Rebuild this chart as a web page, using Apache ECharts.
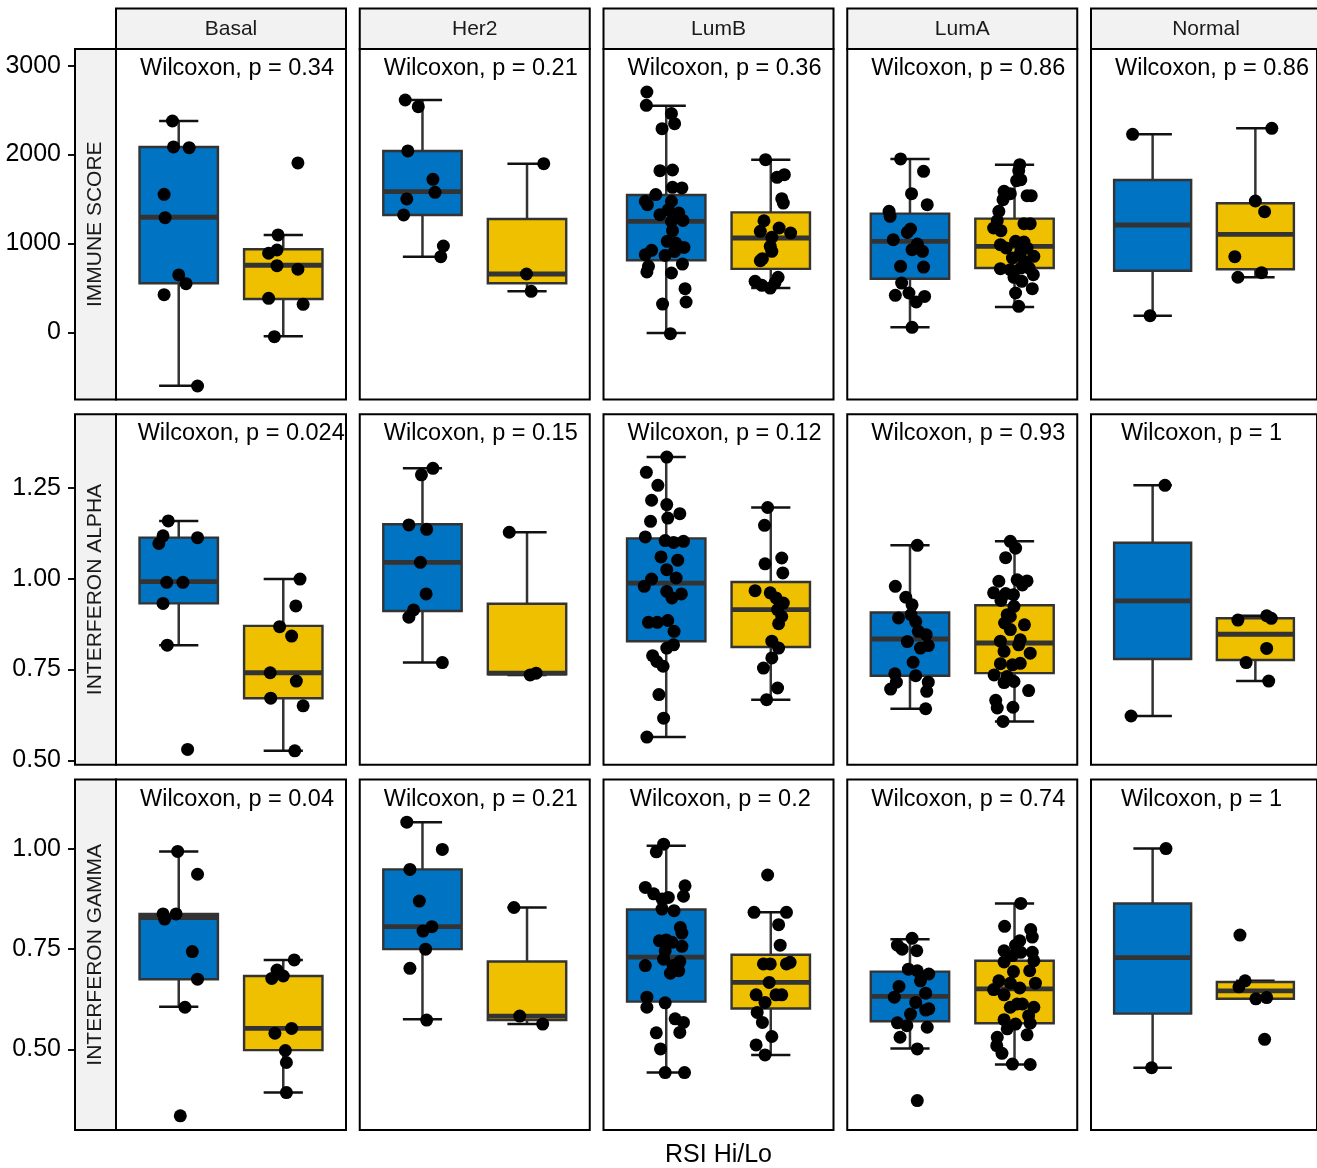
<!DOCTYPE html>
<html>
<head>
<meta charset="utf-8">
<script src="https://cdn.jsdelivr.net/npm/echarts@6/dist/echarts.min.js"></script>
<style>html,body{margin:0;padding:0;background:#fff}#chart{width:1317px;height:1168px}</style>
</head>
<body>
<div id="chart"></div>
<script>
// ---------------- DATA ----------------
const subtypes = ['Basal', 'Her2', 'LumB', 'LumA', 'Normal'];
const measures = ['IMMUNE SCORE', 'INTERFERON ALPHA', 'INTERFERON GAMMA'];
const groups = ['Hi', 'Lo'];
const xTitle = 'RSI Hi/Lo';

const immuneP = ['0.34', '0.21', '0.36', '0.86', '0.86'];
const alphaP = ['0.024', '0.15', '0.12', '0.93', '1'];
const gammaP = ['0.04', '0.21', '0.2', '0.74', '1'];

const immuneTicks = [0, 1000, 2000, 3000];
const alphaTicks = [0.5, 0.75, 1.0, 1.25];
const gammaTicks = [0.5, 0.75, 1.0];

const immuneRange = [-756, 3187];
const alphaRange = [0.4876, 1.4527];
const gammaRange = [0.2983, 1.1732];

// box stats per subtype: [lower whisker, q1, median, q3, upper whisker]
const immuneBoxHi = [[-600, 551, 1294, 2085, 2377], [851, 1320, 1582, 2040, 2613], [-8, 810, 1248, 1545, 2549], [56, 603, 1023, 1335, 1950], [187, 693, 1207, 1713, 2227]];
const immuneBoxLo = [[-45, 375, 754, 934, 1095], [461, 551, 656, 1275, 1897], [498, 713, 1061, 1349, 1942], [285, 723, 967, 1279, 1886], [619, 709, 1102, 1451, 2295]];
const alphaBoxHi = [[0.817, 0.932, 0.992, 1.113, 1.159], [0.769, 0.911, 1.045, 1.150, 1.304], [0.564, 0.828, 0.988, 1.111, 1.335], [0.642, 0.733, 0.834, 0.907, 1.092], [0.622, 0.779, 0.939, 1.099, 1.257]];
const alphaBoxLo = [[0.526, 0.671, 0.741, 0.870, 0.999], [0.735, 0.737, 0.740, 0.931, 1.128], [0.667, 0.812, 0.915, 0.991, 1.196], [0.607, 0.740, 0.823, 0.927, 1.103], [0.718, 0.776, 0.847, 0.891, 0.898]];
const gammaBoxHi = [[0.606, 0.675, 0.829, 0.838, 0.994], [0.575, 0.750, 0.806, 0.949, 1.067], [0.442, 0.619, 0.730, 0.849, 1.008], [0.502, 0.570, 0.632, 0.694, 0.775], [0.454, 0.589, 0.729, 0.864, 1.001]];
const gammaBoxLo = [[0.392, 0.498, 0.552, 0.683, 0.723], [0.563, 0.573, 0.583, 0.719, 0.854], [0.486, 0.602, 0.667, 0.736, 0.842], [0.462, 0.565, 0.651, 0.721, 0.864], [0.626, 0.626, 0.646, 0.668, 0.671]];

// points: [jitter offset, value]
const immuneBasalHi = [[-0.06,2377],[-0.05,2085],[0.10,2077],[-0.14,1552],[-0.13,1290],[0,645],[0.07,547],[-0.14,423],[0.18,-604]];
const immuneBasalLo = [[0.14,1905],[-0.05,1095],[-0.14,889],[-0.06,926],[-0.06,749],[0.14,709],[-0.14,382],[0.19,315],[-0.085,-49]];
const immuneHer2Hi = [[-0.165,2613],[-0.04,2538],[-0.14,2040],[0.10,1721],[0.12,1575],[-0.15,1500],[-0.18,1320],[0.20,971],[0.175,851]];
const immuneHer2Lo = [[0.16,1897],[-0.005,656],[0.04,461]];
const immuneLumBHi = [[-0.185,2703],[-0.19,2553],[0.05,2460],[0.08,2347],[-0.04,2291],[-0.06,1818],[0.06,1826],[0.06,1631],[0.15,1624],[-0.10,1549],[-0.20,1474],[-0.18,1436],[0.05,1474],[0.02,1380],[0.12,1342],[-0.06,1323],[0.16,1259],[0.05,1248],[0.06,1143],[0.01,1023],[0.09,1004],[0.17,955],[-0.14,922],[-0.20,873],[-0.01,865],[0.08,910],[0.155,768],[-0.17,742],[-0.185,679],[0.05,667],[0.18,491],[0.19,341],[-0.035,318],[0.04,-15]];
const immuneLumBLo = [[-0.05,1942],[0.06,1743],[0.13,1773],[0.105,1503],[0.12,1454],[-0.065,1255],[0.08,1173],[0.19,1117],[-0.10,1136],[0.01,1068],[-0.005,967],[0.01,911],[-0.08,828],[-0.10,806],[-0.15,573],[-0.085,528],[0.07,618],[-0.005,498],[0.04,555]];
const immuneLumAHi = [[-0.09,1950],[0.13,1811],[0.015,1560],[0.165,1436],[-0.20,1361],[-0.19,1305],[0.005,1162],[-0.025,1124],[-0.16,1042],[0.07,993],[0.02,930],[0.12,911],[-0.09,742],[0.13,734],[-0.08,554],[-0.14,416],[-0.01,442],[0.06,341],[0.14,404],[0.02,56]];
const immuneLumALo = [[0.05,1886],[0.04,1818],[0.06,1717],[0.02,1706],[-0.10,1586],[-0.04,1560],[0.12,1537],[0.16,1537],[-0.11,1492],[-0.15,1361],[-0.165,1256],[-0.20,1173],[-0.13,1143],[0.09,1222],[0.15,1222],[-0.135,986],[0.01,1023],[0.09,1016],[-0.08,948],[0.06,911],[0.185,855],[-0.02,836],[-0.135,716],[0.09,798],[0.14,723],[0.06,723],[-0.005,618],[0.18,648],[0.07,573],[0.17,491],[0.01,442],[0.04,292],[-0.04,704],[0.12,948]];
const immuneNormalHi = [[-0.195,2227],[-0.025,187]];
const immuneNormalLo = [[0.16,2295],[0,1477],[0.09,1357],[-0.20,851],[-0.17,619],[0.06,671]];

const alphaBasalHi = [[-0.10,1.159],[-0.15,1.118],[-0.19,1.097],[0.18,1.113],[-0.115,0.990],[0.04,0.990],[-0.15,0.932],[-0.11,0.817],[0.085,0.530]];
const alphaBasalLo = [[0.16,0.999],[0.12,0.925],[-0.035,0.868],[0.08,0.842],[-0.125,0.741],[0.125,0.718],[-0.12,0.671],[0.19,0.650],[0.11,0.526]];
const alphaHer2Hi = [[0.10,1.304],[-0.01,1.286],[-0.13,1.148],[0.04,1.136],[-0.02,1.045],[0.035,0.958],[-0.085,0.914],[-0.13,0.894],[0.19,0.769]];
const alphaHer2Lo = [[-0.17,1.128],[0.03,0.735],[0.087,0.740]];
const alphaLumBHi = [[0.005,1.335],[-0.19,1.293],[-0.08,1.257],[-0.14,1.216],[0.005,1.204],[0.13,1.179],[0.015,1.167],[-0.15,1.158],[-0.20,1.115],[-0.01,1.105],[0.07,1.100],[0.165,1.103],[-0.05,1.060],[0.11,1.051],[0.005,1.025],[-0.14,0.999],[0.095,1.002],[-0.21,0.979],[0.005,0.965],[0.145,0.958],[0.055,0.947],[-0.17,0.880],[-0.085,0.880],[0.015,0.885],[0.075,0.855],[0.005,0.809],[0.07,0.818],[-0.13,0.788],[-0.09,0.772],[-0.03,0.759],[-0.07,0.681],[-0.025,0.616],[-0.185,0.564]];
const alphaLumBLo = [[-0.03,1.196],[-0.06,1.147],[-0.055,1.041],[0.105,1.057],[0.115,1.016],[-0.15,0.967],[-0.005,0.961],[0.05,0.947],[0.12,0.933],[0.065,0.915],[0.105,0.896],[0.075,0.876],[0.01,0.828],[0.075,0.809],[0.01,0.782],[-0.07,0.754],[0.065,0.699],[-0.04,0.667]];
const alphaLumAHi = [[0.07,1.092],[-0.14,0.979],[-0.04,0.949],[0.02,0.928],[-0.11,0.892],[0.01,0.901],[0.055,0.882],[0.08,0.855],[0.155,0.846],[-0.025,0.827],[0.10,0.809],[0.175,0.816],[0.03,0.770],[-0.145,0.738],[0.055,0.733],[-0.13,0.715],[-0.185,0.696],[0.175,0.715],[0.16,0.690],[0.15,0.642]];
const alphaLumALo = [[-0.04,1.103],[0.01,1.084],[-0.085,1.058],[-0.15,0.993],[0.025,0.997],[0.12,0.994],[0.075,0.983],[-0.20,0.961],[-0.085,0.959],[-0.01,0.956],[-0.005,0.924],[-0.07,0.901],[-0.095,0.878],[0.095,0.873],[-0.04,0.860],[-0.135,0.828],[0.055,0.832],[-0.10,0.800],[0.15,0.795],[-0.135,0.766],[-0.02,0.763],[0.055,0.767],[-0.195,0.735],[-0.10,0.714],[-0.005,0.717],[0.135,0.692],[-0.18,0.665],[-0.165,0.644],[-0.015,0.646],[-0.11,0.607],[-0.07,0.731],[0.04,0.818],[-0.04,0.896],[-0.13,0.940]];
const alphaNormalHi = [[0.12,1.257],[-0.21,0.622]];
const alphaNormalLo = [[-0.17,0.886],[0.11,0.898],[0.155,0.891],[0.11,0.808],[-0.09,0.769],[0.13,0.718]];

const gammaBasalHi = [[-0.01,0.994],[0.18,0.937],[-0.15,0.838],[-0.025,0.838],[-0.135,0.825],[0.13,0.744],[0.18,0.675],[0.06,0.605],[0.015,0.334]];
const gammaBasalLo = [[0.105,0.723],[-0.06,0.698],[-0.11,0.677],[0,0.683],[0.08,0.552],[-0.08,0.540],[0.02,0.497],[0.03,0.467],[0.03,0.392]];
const gammaHer2Hi = [[-0.15,1.067],[0.19,0.999],[-0.12,0.949],[-0.03,0.870],[0.005,0.795],[0.09,0.806],[0.03,0.750],[-0.12,0.702],[0.04,0.573]];
const gammaHer2Lo = [[-0.125,0.854],[-0.07,0.583],[0.15,0.563]];
const gammaLumBHi = [[-0.025,1.012],[-0.095,0.993],[-0.20,0.904],[0.18,0.908],[0.165,0.882],[-0.12,0.888],[-0.04,0.875],[0.02,0.879],[-0.04,0.850],[0.075,0.846],[0.135,0.804],[0.15,0.790],[-0.065,0.771],[0,0.773],[0.055,0.767],[0.15,0.757],[-0.01,0.746],[-0.025,0.725],[-0.20,0.709],[0.13,0.719],[0.065,0.709],[0.12,0.696],[0.04,0.690],[-0.185,0.630],[-0.185,0.605],[-0.01,0.616],[0.085,0.576],[0.165,0.567],[-0.095,0.541],[0.13,0.542],[-0.055,0.501],[-0.01,0.442],[0.175,0.442]];
const gammaLumBLo = [[-0.03,0.935],[-0.16,0.842],[0.15,0.842],[0.075,0.811],[0.09,0.760],[-0.07,0.713],[-0.005,0.713],[0.15,0.713],[0.185,0.717],[-0.015,0.667],[-0.14,0.636],[0.05,0.636],[0.105,0.636],[-0.055,0.617],[-0.13,0.592],[-0.08,0.567],[0.01,0.532],[-0.14,0.511],[-0.055,0.486]];
const gammaLumAHi = [[0.02,0.777],[-0.12,0.760],[-0.075,0.750],[0.065,0.746],[-0.015,0.700],[0.07,0.696],[0.18,0.688],[0.10,0.671],[-0.105,0.657],[0.15,0.640],[-0.15,0.630],[0.055,0.617],[0.18,0.601],[0.15,0.598],[0.005,0.588],[-0.12,0.566],[-0.03,0.559],[0.165,0.555],[-0.095,0.530],[0.07,0.501],[0.07,0.372]];
const gammaLumALo = [[0.06,0.864],[-0.095,0.807],[0.155,0.799],[0.17,0.780],[0.05,0.771],[0.01,0.760],[-0.10,0.746],[0.17,0.742],[-0.02,0.734],[0.06,0.742],[-0.10,0.718],[0.185,0.721],[-0.01,0.694],[0.145,0.696],[-0.15,0.671],[-0.04,0.665],[0.20,0.665],[-0.20,0.649],[-0.10,0.636],[0.05,0.653],[0.025,0.613],[0.075,0.613],[-0.04,0.605],[0.185,0.605],[0.135,0.584],[-0.10,0.574],[0.01,0.563],[0.15,0.565],[-0.07,0.551],[-0.165,0.530],[0.12,0.536],[-0.17,0.509],[-0.12,0.490],[-0.02,0.463],[0.15,0.462]];
const gammaNormalHi = [[0.13,1.001],[-0.01,0.454]];
const gammaNormalLo = [[-0.15,0.785],[-0.10,0.671],[-0.16,0.656],[0.005,0.626],[0.11,0.629],[0.09,0.525]];

// ---------------- STYLE / LAYOUT ----------------
const FONT = "'Liberation Sans', Arial, Helvetica, sans-serif";
const groupFill = ['#0073C2', '#EFC000'];
const colLeft = 116, colStep = 243.75, panelW = 230;
const rowTop = 49, rowStep = 365.3, panelH = 350.5;

const rows = [
  { name: measures[0], p: immuneP, ticks: immuneTicks, range: immuneRange, box: [immuneBoxHi, immuneBoxLo],
    pts: [[immuneBasalHi, immuneBasalLo], [immuneHer2Hi, immuneHer2Lo], [immuneLumBHi, immuneLumBLo], [immuneLumAHi, immuneLumALo], [immuneNormalHi, immuneNormalLo]],
    fmt: v => String(Math.round(v)) },
  { name: measures[1], p: alphaP, ticks: alphaTicks, range: alphaRange, box: [alphaBoxHi, alphaBoxLo],
    pts: [[alphaBasalHi, alphaBasalLo], [alphaHer2Hi, alphaHer2Lo], [alphaLumBHi, alphaLumBLo], [alphaLumAHi, alphaLumALo], [alphaNormalHi, alphaNormalLo]],
    fmt: v => v.toFixed(2) },
  { name: measures[2], p: gammaP, ticks: gammaTicks, range: gammaRange, box: [gammaBoxHi, gammaBoxLo],
    pts: [[gammaBasalHi, gammaBasalLo], [gammaHer2Hi, gammaHer2Lo], [gammaLumBHi, gammaLumBLo], [gammaLumAHi, gammaLumALo], [gammaNormalHi, gammaNormalLo]],
    fmt: v => v.toFixed(2) }
];

function textWidth(t, size) {
  const ctx = textWidth.ctx || (textWidth.ctx = document.createElement('canvas').getContext('2d'));
  ctx.font = size + 'px ' + FONT;
  return ctx.measureText(t).width;
}

function renderBox(params, api) {
  const g = api.value(0);
  const lo = api.value(1), q1 = api.value(2), med = api.value(3), q3 = api.value(4), hi = api.value(5);
  const cx = api.coord([g, med])[0];
  const xl = api.coord([g - 0.375, med])[0], xr = api.coord([g + 0.375, med])[0];
  const cl = api.coord([g - 0.1875, med])[0], cr = api.coord([g + 0.1875, med])[0];
  const yLo = api.coord([g, lo])[1], yQ1 = api.coord([g, q1])[1], yMed = api.coord([g, med])[1];
  const yQ3 = api.coord([g, q3])[1], yHi = api.coord([g, hi])[1];
  const wStyle = { stroke: '#333333', lineWidth: 2.5 };
  const cStyle = { stroke: '#111111', lineWidth: 2.5 };
  return {
    type: 'group',
    children: [
      { type: 'line', shape: { x1: cx, y1: yLo, x2: cx, y2: yHi }, style: wStyle },
      { type: 'line', shape: { x1: cl, y1: yLo, x2: cr, y2: yLo }, style: cStyle },
      { type: 'line', shape: { x1: cl, y1: yHi, x2: cr, y2: yHi }, style: cStyle },
      { type: 'rect', shape: { x: xl, y: yQ3, width: xr - xl, height: yQ1 - yQ3 },
        style: { fill: groupFill[g - 1], stroke: '#333333', lineWidth: 2.4 } },
      { type: 'line', shape: { x1: xl, y1: yMed, x2: xr, y2: yMed }, style: { stroke: '#333333', lineWidth: 4.8 } }
    ]
  };
}

const grid = [], xAxis = [], yAxis = [], series = [], graphic = [];
const LABEL_SIZE = 23.5;
const w0 = textWidth('Wilcoxon, p = 0.34', LABEL_SIZE);

rows.forEach((row, r) => {
  const top = rowTop + r * rowStep;
  subtypes.forEach((st, c) => {
    const idx = r * 5 + c;
    const left = colLeft + c * colStep;
    grid.push({ left: left, top: top, width: panelW, height: panelH, show: true,
      borderColor: '#000', borderWidth: 2, backgroundColor: '#fff', containLabel: false });
    xAxis.push({ gridIndex: idx, type: 'value', min: 0.4, max: 2.6, show: false });
    yAxis.push({
      gridIndex: idx, type: 'value', min: row.range[0], max: row.range[1], show: c === 0,
      offset: 41, splitLine: { show: false }, axisLine: { show: false },
      axisTick: { show: true, length: 7, lineStyle: { color: '#111', width: 2 }, customValues: row.ticks },
      axisLabel: { customValues: row.ticks, formatter: v => row.fmt(v), margin: 14, fontSize: 25,
        color: '#000', fontFamily: FONT }
    });
    series.push({
      type: 'custom', xAxisIndex: idx, yAxisIndex: idx, silent: true, z: 2,
      encode: { x: 0, y: [1, 2, 3, 4, 5] },
      data: [[1].concat(row.box[0][c]), [2].concat(row.box[1][c])],
      renderItem: renderBox
    });
    const pts = [];
    row.pts[c].forEach((arr, gi) => arr.forEach(([off, v]) => pts.push([gi + 1 + off, v])));
    series.push({
      type: 'scatter', xAxisIndex: idx, yAxisIndex: idx, silent: true, z: 3,
      symbol: 'circle', symbolSize: 13, itemStyle: { color: '#000', opacity: 1 }, data: pts
    });
    // Wilcoxon label
    const lab = 'Wilcoxon, p = ' + row.p[c];
    const w = textWidth(lab, LABEL_SIZE);
    graphic.push({ type: 'text', x: left + 24 + 0.18 * (w0 - w), y: top + 19.5, z: 20,
      style: { text: lab, fontSize: LABEL_SIZE, fontFamily: FONT, fill: '#000', textAlign: 'left', textVerticalAlign: 'middle' } });
  });
  // row strip
  graphic.push({ type: 'rect', shape: { x: 75, y: top, width: 41, height: panelH }, z: 10,
    style: { fill: '#F2F2F2', stroke: '#000', lineWidth: 2 } });
  graphic.push({ type: 'text', x: 95.5, y: top + panelH / 2, rotation: Math.PI / 2, z: 11,
    style: { text: row.name, fontSize: 21, fontFamily: FONT, fill: '#1A1A1A', textAlign: 'center', textVerticalAlign: 'middle' } });
});

subtypes.forEach((st, c) => {
  const left = colLeft + c * colStep;
  graphic.push({ type: 'rect', shape: { x: left, y: 8.5, width: panelW, height: rowTop - 8.5 }, z: 10,
    style: { fill: '#F2F2F2', stroke: '#000', lineWidth: 2 } });
  graphic.push({ type: 'text', x: left + panelW / 2, y: 29, z: 11,
    style: { text: st, fontSize: 21, fontFamily: FONT, fill: '#1A1A1A', textAlign: 'center', textVerticalAlign: 'middle' } });
});

graphic.push({ type: 'text', x: colLeft + (4 * colStep + panelW) / 2, y: 1155, z: 11,
  style: { text: xTitle, fontSize: 25, fontFamily: FONT, fill: '#000', textAlign: 'center', textVerticalAlign: 'middle' } });

const chart = echarts.init(document.getElementById('chart'), null, { renderer: 'canvas' });
chart.setOption({
  animation: false,
  backgroundColor: '#fff',
  grid: grid, xAxis: xAxis, yAxis: yAxis, series: series, graphic: graphic
});
</script>
</body>
</html>
